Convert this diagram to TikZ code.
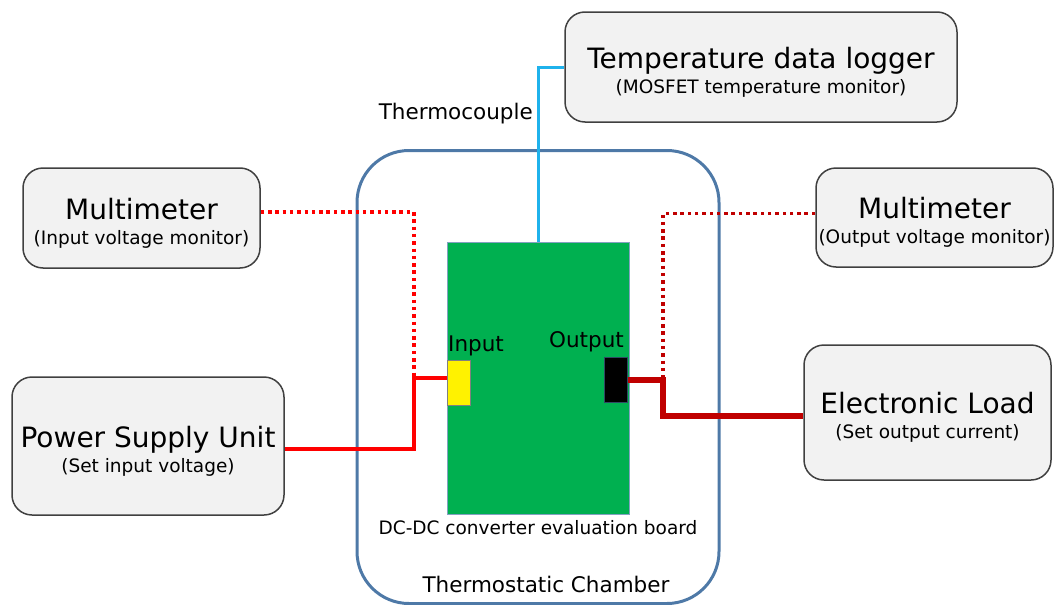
\documentclass[tikz,border=0pt]{standalone}
\usepackage{fontspec}
\setmainfont{DejaVu Sans}
\usepackage{tikz}
\usetikzlibrary{positioning, calc}

\definecolor{boxgray}{HTML}{F2F2F2}
\definecolor{boxline}{HTML}{404040}
\definecolor{chamberblue}{HTML}{4E79A7}
\definecolor{boardgreen}{HTML}{00B050}
\definecolor{tccyan}{HTML}{1FB2EC}
\definecolor{darkred}{HTML}{C00000}

\newcommand{\titfnt}{\fontsize{28}{30}\selectfont}
\newcommand{\subfnt}{\fontsize{18.5}{25}\selectfont}
\newcommand{\lblfnt}{\fontsize{21.5}{24}\selectfont}
\newcommand{\unittext}[2]{{\titfnt\rule{0pt}{31pt}#1}\\#2}

\begin{document}
\begin{tikzpicture}[
				x=1pt, y=-1pt,
				unit/.style={draw=boxline, fill=boxgray, line width=1.5pt, rounded corners=20pt, align=center, font=\subfnt, inner sep=0pt},
				chamber/.style={draw=chamberblue, line width=3pt, rounded corners=52pt},
				port/.style={line width=1pt, minimum width=23pt, minimum height=45pt, inner sep=0pt},
				lbl/.style={font=\lblfnt, inner sep=0pt},
				wire/.style={red, line width=3.5pt},
				loadwire/.style={darkred, line width=6pt},
				probe/.style={line width=3.5pt, dash pattern=on 3.5pt off 3.8pt}
				]
				
				\useasboundingbox (0,0) rectangle (1055,605);
				
				% Camara
				\node[chamber, minimum width=362pt, minimum height=453pt] (chamber) at (538,377) {};
				\node[lbl, anchor=base] (chamberlbl) at (546,592) {Thermostatic Chamber};
				
				% Placa
				\node[draw=chamberblue!70, fill=boardgreen, line width=1pt, minimum width=182pt, minimum height=272pt, inner sep=0pt] (board) at (538,378) {};
				\node[port, draw=gray, fill=yellow] (inport) at (459,382.5) {};
				\node[port, draw=chamberblue!60!black, fill=black] (outport) at (615.5,379.5) {};
				\node[lbl, anchor=base west] (inlbl) at (448,351) {Input};
				\node[lbl, anchor=base east] (outlbl) at (624,347) {Output};
				\node[font=\subfnt, anchor=base, inner sep=0pt] (boardlbl) at ([yshift=-20pt]board.south) {DC-DC converter evaluation board};
				
				% Equipos
				\node[unit, minimum width=392pt, minimum height=110pt] (logger) at (761,67)
				{\unittext{Temperature data logger}{(MOSFET temperature monitor)}};
				\node[unit, minimum width=237pt, minimum height=100pt] (mmin) at (141.5,218)
				{\unittext{Multimeter}{(Input voltage monitor)}};
				\node[unit, minimum width=272pt, minimum height=138pt] (psu) at (148,446)
				{\unittext{Power Supply Unit}{(Set input voltage)}};
				\node[unit, minimum width=237pt, minimum height=99pt] (mmout) at (934.5,217.5)
				{\unittext{Multimeter}{(Output voltage monitor)}};
				\node[unit, minimum width=247pt, minimum height=135pt] (load) at (927.5,412.5)
				{\unittext{Electronic Load}{(Set output current)}};
				
				% Termopar
				\coordinate (injct) at (414,378);
				\coordinate (outjct) at (663,379.5);
				
				\draw[tccyan, line width=3pt] (board.north) |- (logger.west);
				\node[lbl, anchor=base east] (tclbl) at (533,119) {Thermocouple};
				
				% Entrada
				\draw[wire] ([yshift=-3pt]psu.east) -| (injct) -- (injct -| inport.west);
				\draw[probe, red] ([yshift=6pt]mmin.east) -| (injct);
				
				% Salida
				\draw[loadwire] (outport.east) -- (outjct) |- ([yshift=-3pt]load.west);
				\draw[probe, darkred] ([yshift=4pt]mmout.west) -| (outjct);
				
			\end{tikzpicture}
\end{document}
